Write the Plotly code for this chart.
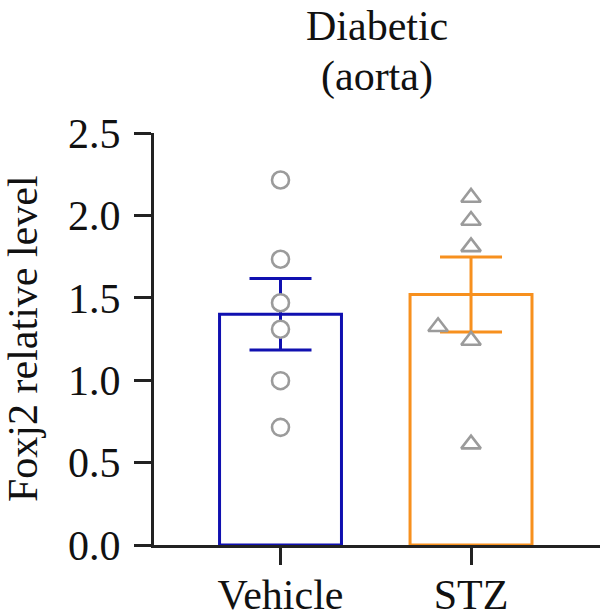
import plotly.graph_objects as go

groups = ["Vehicle", "STZ"]
group_pos = [0, 1]
means = [1.40, 1.52]
sems = [0.217, 0.228]
bar_colors = ["#1010b0", "#f7901e"]

vehicle_points = [2.215, 1.734, 1.470, 1.309, 0.997, 0.714]
vehicle_jitter = [0, 0, 0, 0, 0, 0]
stz_points = [2.109, 1.969, 1.809, 1.324, 1.241, 0.612]
stz_jitter = [0, 0, 0, -0.173, 0, 0]

yticks = [0.0, 0.5, 1.0, 1.5, 2.0, 2.5]
title_lines = ["Diabetic", "(aorta)"]

FONT = "Liberation Serif"
FS = 42
AX = "#222222"
GRAY = "#9b9b9b"

fig = go.Figure()
for i in range(2):
    fig.add_trace(go.Bar(
        x=[group_pos[i]], y=[means[i]], width=0.64,
        marker=dict(color="white", line=dict(color=bar_colors[i], width=3)),
        error_y=dict(type="data", array=[sems[i]], visible=True, thickness=3, width=31,
                     color=bar_colors[i]),
        showlegend=False,
    ))
fig.add_trace(go.Scatter(
    x=[group_pos[0] + j for j in vehicle_jitter], y=vehicle_points, mode="markers",
    marker=dict(symbol="circle", size=17, color="white", line=dict(color=GRAY, width=2.6)),
    showlegend=False,
))
fig.add_trace(go.Scatter(
    x=[group_pos[1] + j for j in stz_jitter], y=stz_points, mode="markers",
    marker=dict(symbol="triangle-up", size=17, color="white", line=dict(color=GRAY, width=2.6)),
    showlegend=False,
))

H_PLOT = 613 - 133 - 68
fig.update_layout(
    width=600, height=613,
    margin=dict(l=154, r=0, t=133, b=68, autoexpand=False),
    paper_bgcolor="white", plot_bgcolor="white",
    font=dict(family=FONT, size=FS, color="#111111"),
    barmode="overlay",
    annotations=[
        dict(text=title_lines[0], xref="paper", yref="paper", x=0.5, y=1 + 132 / H_PLOT,
             xanchor="center", yanchor="top", showarrow=False, font=dict(size=FS)),
        dict(text=title_lines[1], xref="paper", yref="paper", x=0.5, y=1 + 82 / H_PLOT,
             xanchor="center", yanchor="top", showarrow=False, font=dict(size=FS)),
        dict(text="Foxj2 relative level", xref="paper", yref="paper", x=0, y=0.5,
             xanchor="center", yanchor="middle", xshift=-(154 - 23), textangle=-90,
             showarrow=False, font=dict(size=FS)),
    ],
)
fig.update_xaxes(
    range=[-0.664, 1.677], tickvals=group_pos, ticktext=groups, automargin=False,
    showline=True, linecolor=AX, linewidth=3, ticks="outside", ticklen=17, tickwidth=3, tickcolor=AX,
    showgrid=False, zeroline=False, tickfont=dict(size=FS), ticklabelstandoff=-6,
)
fig.update_yaxes(
    range=[0, 2.5], tickvals=yticks, tickformat=".1f", automargin=False,
    showline=True, linecolor=AX, linewidth=3, ticks="outside", ticklen=17, tickwidth=3, tickcolor=AX,
    showgrid=False, zeroline=False, tickfont=dict(size=FS), ticklabelstandoff=5,
)
fig.write_html("out.html")
